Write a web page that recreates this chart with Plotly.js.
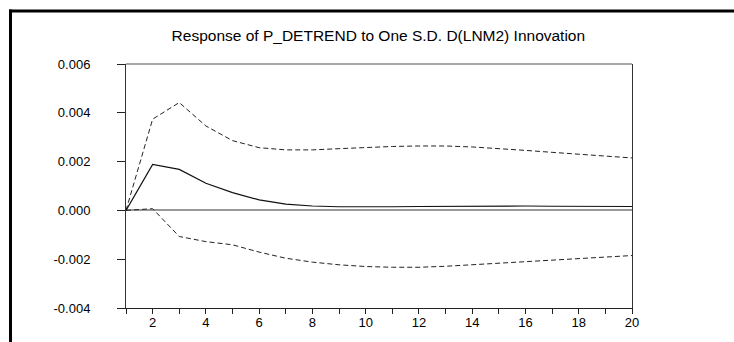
<!DOCTYPE html>
<html>
<head>
<meta charset="utf-8">
<script src="https://cdn.plot.ly/plotly-3.0.1.min.js"></script>
<style>
html,body{margin:0;padding:0;background:#fff;}
#chart{width:734px;height:342px;}
</style>
</head>
<body>
<div id="chart"></div>
<script>
const periods = [1,2,3,4,5,6,7,8,9,10,11,12,13,14,15,16,17,18,19,20];
const response = [0, 0.00188, 0.00168, 0.00111, 0.00073, 0.00043, 0.00026, 0.00018, 0.00015, 0.00014, 0.00015, 0.00016, 0.00017, 0.00017, 0.00018, 0.00018, 0.00017, 0.00017, 0.00016, 0.00016];
const upperBand = [0, 0.00374, 0.00442, 0.00346, 0.00286, 0.00257, 0.00248, 0.00248, 0.00253, 0.00259, 0.00262, 0.00264, 0.00264, 0.0026, 0.00254, 0.00246, 0.00238, 0.0023, 0.00223, 0.00215];
const lowerBand = [0, 0.00007, -0.00107, -0.00128, -0.00141, -0.00171, -0.00196, -0.00212, -0.00223, -0.0023, -0.00233, -0.00233, -0.00229, -0.00223, -0.00218, -0.0021, -0.00204, -0.00199, -0.00192, -0.00185];
const xTickVals = [1,2,3,4,5,6,7,8,9,10,11,12,13,14,15,16,17,18,19,20];
const xTickText = ['','2','','4','','6','','8','','10','','12','','14','','16','','18','','20'];
const yTickVals = [-0.004, -0.002, 0, 0.002, 0.004, 0.006];
const yTickText = ['-0.004', '-0.002', '0.000', '0.002', '0.004', '0.006'];
const titleText = 'Response of P_DETREND to One S.D. D(LNM2) Innovation';

const dashStyle = {color: '#222', width: 1, dash: '5px,3px'};
const traces = [
  {x: periods, y: upperBand, mode: 'lines', line: dashStyle, hoverinfo: 'skip'},
  {x: periods, y: lowerBand, mode: 'lines', line: dashStyle, hoverinfo: 'skip'},
  {x: periods, y: response, mode: 'lines', line: {color: '#111', width: 1.2}, hoverinfo: 'skip'}
];

const layout = {
  width: 734, height: 342,
  margin: {l: 126, r: 102, t: 64, b: 34, pad: 0},
  paper_bgcolor: '#fff', plot_bgcolor: '#fff',
  showlegend: false,
  font: {family: 'Arial, Liberation Sans, sans-serif', color: '#000', size: 13},
  title: {text: titleText, x: 0.5155, xanchor: 'center', y: 0.897, yanchor: 'middle',
          font: {size: 15.5, family: 'Arial, Liberation Sans, sans-serif', color: '#000'}},
  xaxis: {
    range: [1, 20], tickmode: 'array', tickvals: xTickVals, ticktext: xTickText,
    ticks: 'outside', ticklen: 5, tickcolor: '#222', tickwidth: 1,
    showline: true, linecolor: '#222', linewidth: 1,
    showgrid: false, zeroline: false, fixedrange: true,
    tickfont: {size: 13}, ticklabelstandoff: -3
  },
  yaxis: {
    range: [-0.004, 0.006], tickmode: 'array', tickvals: yTickVals, ticktext: yTickText,
    ticks: 'outside', ticklen: 8, tickcolor: '#222', tickwidth: 1,
    showline: true, mirror: true, linecolor: '#333', linewidth: 1,
    showgrid: false, zeroline: true, zerolinecolor: '#999', zerolinewidth: 2,
    fixedrange: true, tickfont: {size: 13}, ticklabelstandoff: 24
  },
  shapes: [
    {type: 'line', xref: 'paper', yref: 'paper', x0: 0, x1: 1, y0: 1, y1: 1, line: {color: '#888', width: 1.5}},
    {type: 'line', xref: 'paper', yref: 'paper', x0: -117/506, x1: 608/506, y0: 1 + 53/244, y1: 1 + 53/244, line: {color: '#000', width: 3}},
    {type: 'line', xref: 'paper', yref: 'paper', x0: -115.5/506, x1: -115.5/506, y0: 1 + 54.5/244, y1: -34/244, line: {color: '#000', width: 3}}
  ]
};

Plotly.newPlot('chart', traces, layout, {displayModeBar: false, staticPlot: true});
</script>
</body>
</html>
